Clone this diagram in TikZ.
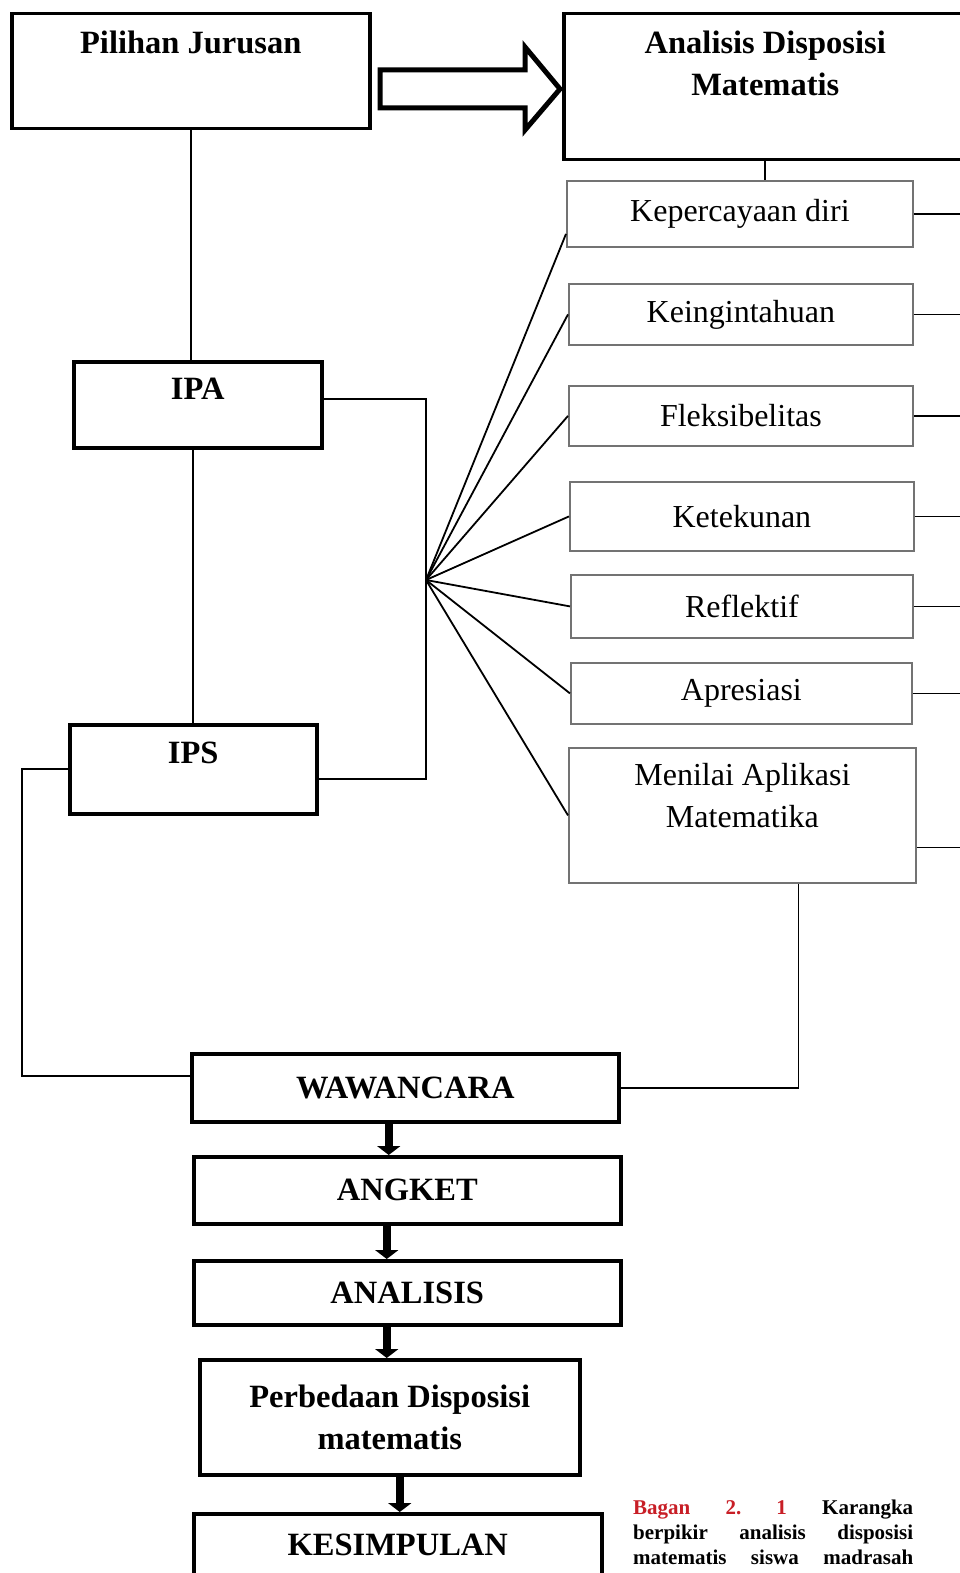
\documentclass[tikz,border=0pt]{standalone}
\usepackage{fontspec}
\setmainfont{Liberation Serif}
\usetikzlibrary{positioning,arrows.meta}
\definecolor{capred}{RGB}{200,30,38}

\begin{document}
\begin{tikzpicture}[x=1pt, y=-1pt,
    thickbox/.style={draw, line width=3.5pt, anchor=north west, inner sep=0pt},
    thinbox/.style={draw=black!55, line width=1.8pt, anchor=north west, inner sep=0pt,
        align=center, font=\fontsize{32}{42}\selectfont},
    boldtxt/.style={inner sep=0pt, align=center, font=\fontsize{32.5}{42}\selectfont\bfseries},
    link/.style={line width=1.8pt},
    bigarrow/.style={line width=8.5pt, -{Triangle[width=23pt,length=9pt]}}]
    \clip (0,0) rectangle (960,1573);

    \node[thickbox, minimum width=358pt, minimum height=115pt] (pj) at (10,12) {};
    \node[boldtxt, below=19pt of pj.north] (pjt) {Pilihan Jurusan};
    \node[thickbox, minimum width=403pt, minimum height=146pt] (ad) at (562,12) {};
    \node[boldtxt, below=19pt of ad.north] (adt) {Analisis Disposisi\\Matematis};
    \draw[line width=5pt] (380,70) -- (525,70) -- (525,47) -- (560,89)
        -- (525,130) -- (525,108) -- (380,108) -- cycle;

    \node[thickbox, minimum width=248pt, minimum height=86pt] (ipa) at (72,360) {};
    \node[boldtxt, below=18pt of ipa.north] (ipat) {IPA};
    \node[thickbox, minimum width=247pt, minimum height=89pt] (ips) at (68,723) {};
    \node[boldtxt, below=19pt of ips.north] (ipst) {IPS};

    \node[thinbox, minimum width=346pt, minimum height=66pt] (kd) at (566,180) {Kepercayaan diri};
    \node[thinbox, minimum width=344pt, minimum height=61pt] (kg) at (568,283) {Keingintahuan};
    \node[thinbox, minimum width=344pt, minimum height=60pt] (fl) at (568,385) {Fleksibelitas};
    \node[thinbox, minimum width=344pt, minimum height=69pt] (kt) at (569,481) {Ketekunan};
    \node[thinbox, minimum width=342pt, minimum height=63pt] (rf) at (570,574) {Reflektif};
    \node[thinbox, minimum width=341pt, minimum height=61pt] (ap) at (570,662) {Apresiasi};
    \node[thinbox, minimum width=347pt, minimum height=135pt] (mam) at (568,747) {};
    \node[inner sep=0pt, align=center, font=\fontsize{32}{42}\selectfont,
        below=16pt of mam.north] (mamt) {Menilai Aplikasi\\Matematika};

    \node[thickbox, boldtxt, minimum width=427pt, minimum height=68pt] (waw) at (190,1052) {WAWANCARA};
    \node[thickbox, boldtxt, minimum width=427pt, minimum height=67pt] (ang) at (192,1155) {ANGKET};
    \node[thickbox, boldtxt, minimum width=427pt, minimum height=64pt] (ana) at (192,1259) {ANALISIS};
    \node[thickbox, boldtxt, minimum width=380pt, minimum height=115pt] (perb) at (198,1358) {Perbedaan Disposisi\\matematis};
    \node[thickbox, minimum width=408pt, minimum height=80pt] (kes) at (192,1512) {};
    \node[boldtxt, below=22pt of kes.north] (kest) {KESIMPULAN};

    \coordinate (hub) at (426,580);
    \coordinate (edge) at (960,0);
    \coordinate (mr) at ([yshift=-32pt]mam.east);

    \draw[link] (pj.south) -- (pj.south |- ipa.north);
    \draw[link] (ips.north |- ipa.south) -- (ips.north);
    \draw[link] (ad.south) -- (ad.south |- kd.north);
    \draw[link] ([yshift=6pt]ipa.east) -| (hub) |- ([yshift=-10pt]ips.east);

    \draw[link] (hub) -- ([yshift=-20pt]kd.west);
    \foreach \b in {kg,fl,kt,rf,ap,mam}
        \draw[link] (hub) -- (\b.west);
    \foreach \b in {kd,kg,fl,kt,rf,ap}
        \draw[link] (\b.east) -- (\b.east -| edge);
    \draw[link] (mr) -- (mr -| edge);

    \draw[link] (ips.west) -- ++(-46,0) |- ([yshift=12pt]waw.west);
    \draw[link] ([xshift=56pt]mam.south) |- (waw.east);

    \draw[bigarrow] ([xshift=-16.5pt]waw.south) -- ([xshift=-18.5pt]ang.north);
    \draw[bigarrow] ([xshift=-20.5pt]ang.south) -- ([xshift=-20.5pt]ana.north);
    \draw[bigarrow] ([xshift=-20.5pt]ana.south) -- ([xshift=-3pt]perb.north);
    \draw[bigarrow] ([xshift=10pt]perb.south) -- ([xshift=2pt]kes.north);

    \node[anchor=north west, inner sep=0pt, align=left,
        font=\fontsize{21}{25}\selectfont\bfseries\frenchspacing] (cap) at (633,1500)
        {\makebox[280pt][s]{\textcolor{capred}{Bagan 2. 1} Karangka}\\
         \makebox[280pt][s]{berpikir analisis disposisi}\\
         \makebox[280pt][s]{matematis siswa madrasah}};
\end{tikzpicture}
\end{document}
